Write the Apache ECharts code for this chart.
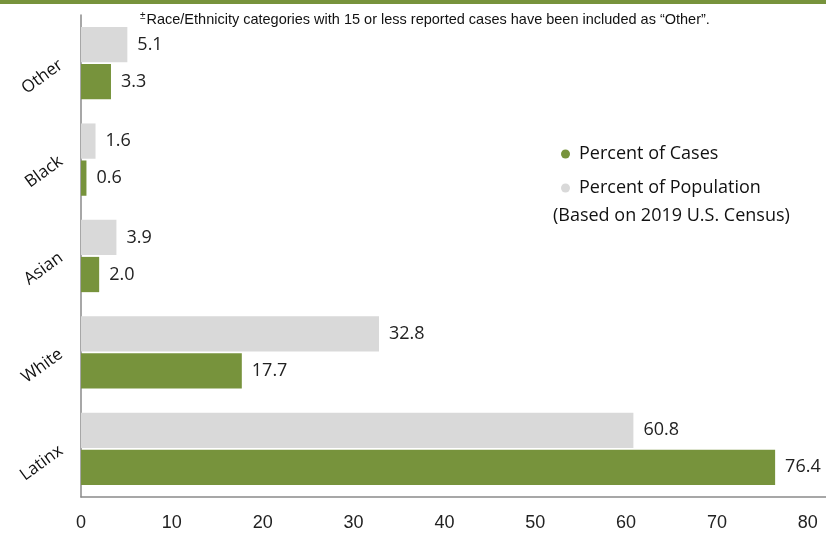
<!DOCTYPE html>
<html>
<head>
<meta charset="utf-8">
<script src="https://cdn.jsdelivr.net/npm/echarts@6/dist/echarts.min.js"></script>
<style>
  html, body { margin: 0; padding: 0; background: #fff; }
  #chart { width: 826px; height: 533px; }
</style>
</head>
<body>
<div id="chart"></div>
<script>
const categories = ['Latinx', 'White', 'Asian', 'Black', 'Other'];
const casesPct = [76.4, 17.7, 2.0, 0.6, 3.3];
const populationPct = [60.8, 32.8, 3.9, 1.6, 5.1];

var myChart = echarts.init(document.getElementById('chart'));
var narrow = '"Liberation Sans Narrow", "Liberation Sans", sans-serif';
var labelFont = '"Open Sans", "Noto Sans", sans-serif';

var valueLabel = {
    show: true,
    position: 'right',
    distance: 10,
    formatter: function (p) { return p.value.toFixed(1); },
    fontFamily: labelFont,
    fontSize: 18,
    color: '#222',
    padding: [6, 0, 0, 0]
};

var option = {
    animation: false,
    grid: {
        left: 81,
        right: 0,
        top: 15,
        bottom: 36
    },
    legend: {
        left: 556,
        top: 140,
        orient: 'vertical',
        icon: 'circle',
        itemWidth: 9,
        itemHeight: 9,
        itemGap: 16,
        textStyle: { fontFamily: labelFont, fontSize: 18, color: '#111', padding: [0, 0, 0, 4] },
        data: ['Percent of Cases', 'Percent of Population']
    },
    xAxis: {
        type: 'value',
        min: 0,
        max: 82,
        interval: 10,
        splitLine: { show: false },
        axisLine: { show: true, lineStyle: { color: '#8a8a8a', width: 1.5 } },
        axisTick: { show: false },
        axisLabel: {
            showMaxLabel: false,
            margin: 17,
            fontFamily: narrow,
            fontSize: 18,
            color: '#222'
        }
    },
    yAxis: {
        type: 'category',
        data: categories,
        axisLine: { show: true, lineStyle: { color: '#8a8a8a', width: 1.5 } },
        axisTick: { show: false },
        axisLabel: {
            rotate: 36,
            margin: 20,
            padding: [10, 0, 0, 0],
            fontFamily: labelFont,
            fontSize: 17,
            color: '#111'
        }
    },
    series: [
        {
            name: 'Percent of Population',
            type: 'bar',
            data: populationPct,
            barCategoryGap: '25%',
            barGap: '5%',
            itemStyle: { color: '#D9D9D9' },
            label: valueLabel
        },
        {
            name: 'Percent of Cases',
            type: 'bar',
            data: casesPct,
            barCategoryGap: '25%',
            barGap: '5%',
            itemStyle: { color: '#77933C' },
            label: valueLabel
        }
    ],
    graphic: [
        {
            type: 'rect',
            left: 0,
            top: 0,
            shape: { width: 826, height: 4 },
            style: { fill: '#77933C' }
        },
        {
            type: 'text',
            left: 140,
            top: 11,
            style: {
                text: '{sup|±}Race/Ethnicity categories with 15 or less reported cases have been included as \u201cOther\u201d.',
                rich: {
                    sup: { fontSize: 10, verticalAlign: 'top', padding: [0, 1, 7, 0], fontFamily: narrow, fill: '#111' }
                },
                fontFamily: narrow,
                fontSize: 14.5,
                fill: '#111'
            }
        },
        {
            type: 'text',
            left: 553,
            top: 207,
            style: {
                text: '(Based on 2019 U.S. Census)',
                fontFamily: labelFont,
                fontSize: 18,
                fill: '#111'
            }
        }
    ]
};

myChart.setOption(option);
window.onresize = function () {
    myChart.resize();
};
</script>
</body>
</html>
